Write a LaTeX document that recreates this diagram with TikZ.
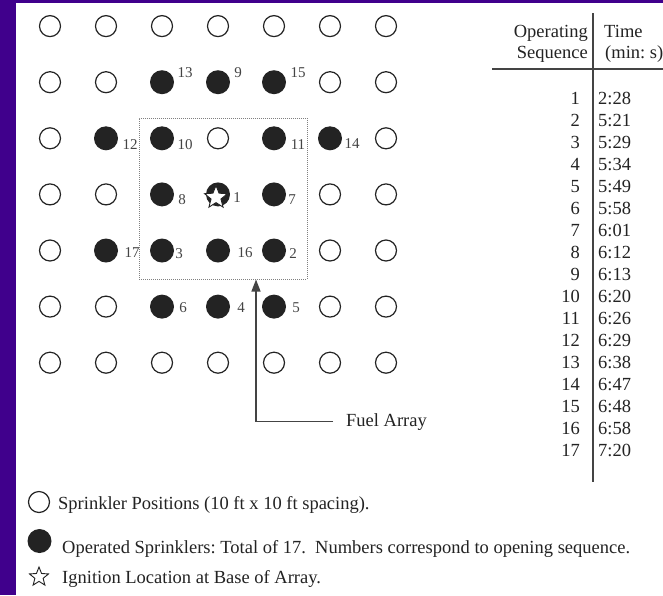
\documentclass[tikz,border=0pt]{standalone}
\usepackage{fontspec}
\setmainfont{Liberation Serif}
\usetikzlibrary{shapes.geometric,arrows.meta}
\definecolor{slidepurple}{RGB}{64,0,140}
\definecolor{ink}{RGB}{35,35,35}
\frenchspacing

\begin{document}
\begin{tikzpicture}[x=1pt,y=-1pt,
	sprk/.style={circle,draw=ink,line width=1.2pt,minimum size=21pt,inner sep=0pt},
	fired/.style={circle,fill=ink,minimum size=24pt,inner sep=0pt},
	ignite/.style={star,star points=5,star point ratio=2.3,draw=ink,fill=white,line width=0.9pt,minimum size=20pt,inner sep=0pt},
	num/.style={font=\fontsize{15}{15}\selectfont,text=ink!85,inner sep=0pt},
	txt/.style={font=\fontsize{18.5}{22}\selectfont,text=ink,inner sep=0pt},
	tabline/.style={ink!85,line width=1.3pt},
	fuelbox/.style={draw=gray,densely dotted,line width=1pt,minimum width=168pt,minimum height=161pt}]
		\useasboundingbox (0,0) rectangle (663,595);
		\fill[white] (0,0) rectangle (663,595);
		\fill[slidepurple] (0,0) rectangle (16,595);
		\fill[slidepurple] (0,0) rectangle (663,2.5);
		
		% Sprinkler Grid (open heads)
		\foreach \r/\cols in {1/{1,2,3,4,5,6,7},2/{1,2,6,7},3/{1,4,7},4/{1,2,6,7},5/{1,6,7},6/{1,2,6,7},7/{1,2,3,4,5,6,7}}
			\foreach \c in \cols
				\node[sprk] (o\c\r) at (56*\c-6,56.1*\r-30) {};
		
		% Operated Sprinklers
		\foreach \c/\r/\n/\dx/\dy in {3/2/13/23/-10,4/2/9/20/-10,5/2/15/24/-10,
				2/3/12/24/6,3/3/10/23/6,5/3/11/24/6,6/3/14/22/5,
				3/4/8/20/5,4/4/1/19/3,5/4/7/18/5,
				2/5/17/26/2,3/5/3/17/3,4/5/16/27/2,5/5/2/19/3,
				3/6/6/21/1,4/6/4/23/1,5/6/5/22/1}
		{
			\node[fired] (f\n) at (56*\c-6,56.1*\r-30) {};
			\node[num] (n\n) at ([shift={(\dx,\dy)}]f\n) {\n};
		}
		\node[ignite,minimum size=24pt] (ign) at ([shift={(-2,3)}]f1) {};
		
		% Fuel Array
		\node[fuelbox] (arr) at (223,198.5) {};
		\coordinate (tip) at ([xshift=33pt]arr.south);
		\node[txt,anchor=base west] (fuel) at (346,426) {Fuel Array};
		\draw[tabline,-{Triangle[length=12pt,width=9pt]}] ([xshift=-13pt]fuel.west) -| (tip);
		
		% Operating Sequence Table
		\coordinate (vtop) at (593,13);
		\coordinate (vbot) at (593,482);
		\coordinate (hl) at (492,69);
		\coordinate (hr) at (663,69);
		\draw[tabline] (vtop) -- (vbot);
		\draw[tabline] (hl) -- (hr);
		\node[txt,anchor=base east] (h1) at (588,37) {Operating};
		\node[txt,anchor=base east] (h2) at (588,58) {Sequence};
		\node[txt,anchor=base west] (h3) at (604,37) {Time};
		\node[txt,anchor=base west] (h4) at (605,58) {(min: s)};
		\foreach \k/\t in {1/2:28,2/5:21,3/5:29,4/5:34,5/5:49,6/5:58,7/6:01,8/6:12,9/6:13,
				10/6:20,11/6:26,12/6:29,13/6:38,14/6:47,15/6:48,16/6:58,17/7:20}
		{
			\node[txt,anchor=base east] (q\k) at (580,82+22*\k) {\k};
			\node[txt,anchor=base west] (t\k) at (598,82+22*\k) {\t};
		}
		
		% Legend
		\node[sprk] (lo) at (39,502) {};
		\node[txt,anchor=base west] (l1) at (58,509) {Sprinkler Positions (10 ft x 10 ft spacing).};
		\node[fired] (lf) at (39.5,541) {};
		\node[txt,anchor=base west] (l2) at (62,553) {Operated Sprinklers: Total of 17.~ Numbers correspond to opening sequence.};
		\node[ignite] (ls) at (39,577) {};
		\node[txt,anchor=base west] (l3) at (62,583) {Ignition Location at Base of Array.};
	\end{tikzpicture}
\end{document}
